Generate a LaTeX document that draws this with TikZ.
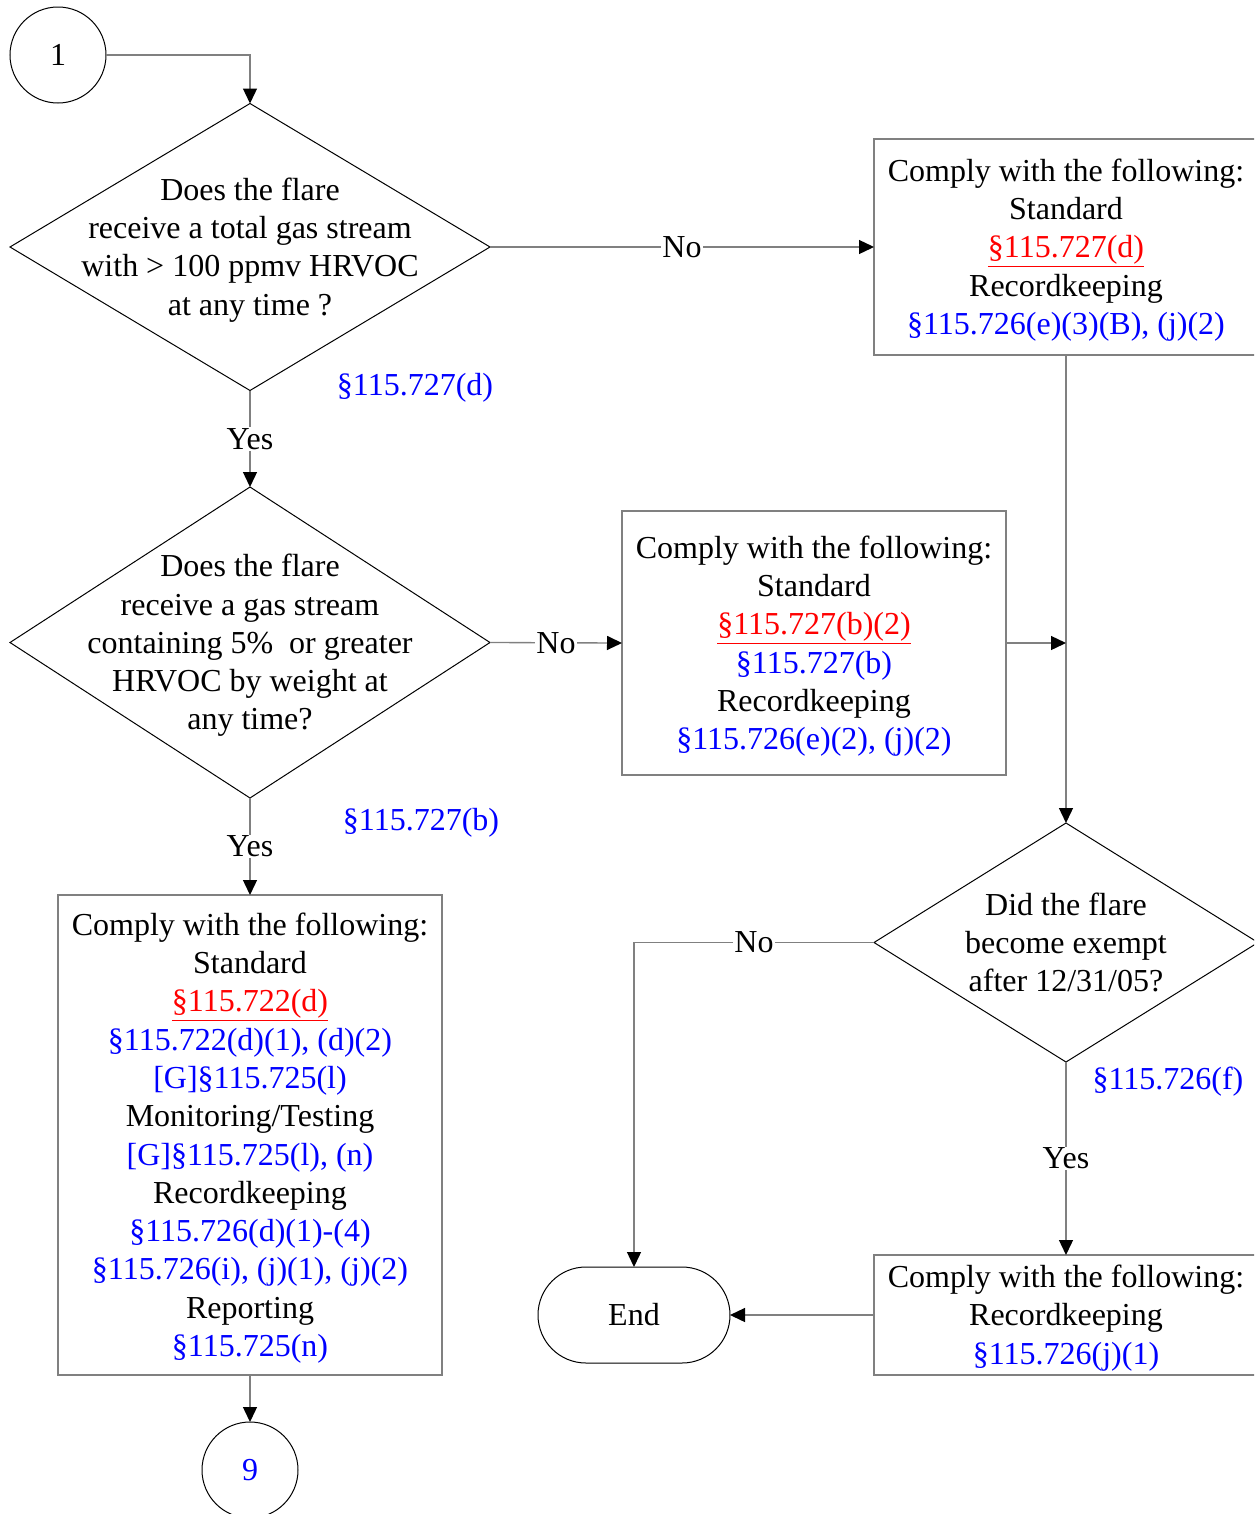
\documentclass[tikz,border=0pt]{standalone}
\usepackage{fontspec}
\setmainfont{Liberation Serif}
\usetikzlibrary{shapes.geometric,shapes.misc,arrows.meta}
\definecolor{refblue}{RGB}{0,0,255}
\definecolor{refred}{RGB}{255,0,0}
\definecolor{linegray}{RGB}{128,128,128}
\newcommand{\rb}[1]{\textcolor{refblue}{#1}}
\newcommand{\rr}[1]{\textcolor{refred}{\underline{#1}}}

\tikzset{every picture/.style={line width=0.75pt}}

\begin{document}
\begin{tikzpicture}[x=0.75pt,y=0.75pt,yscale=-1,xscale=1,
  font=\fontsize{24}{28.7}\selectfont,
  dia/.style={diamond,draw=black,line width=0.75pt,inner sep=0pt,outer sep=0pt},
  box/.style={rectangle,draw=linegray,line width=1pt,inner sep=0pt,outer sep=0pt,minimum width=288pt},
  conn/.style={circle,draw=black,line width=0.75pt,inner sep=0pt,outer sep=0pt,minimum size=72pt},
  txt/.style={align=center,inner sep=0pt,yshift=-2.25pt},
  lnk/.style={draw=linegray,line width=1pt},
  arr/.style={lnk,-{Triangle[length=11.25pt,width=10.5pt,color=black]}},
  lbl/.style={fill=white,inner sep=1pt}
]
%set diagram to the size of the page
\useasboundingbox (0,0) rectangle (1254,1514);
\clip (0,0) rectangle (1254,1514);

%Shape: Circle
\node[conn] (c1) at (58,55) {1};
\node[conn] (c9) at (250,1470) {\rb{9}};

%Shape: Diamond
\node[dia,minimum width=360pt,minimum height=215.25pt] (q1) at (250,247) {};
\node[dia,minimum width=360pt,minimum height=233.25pt] (q2) at (250,642.5) {};
\node[dia,minimum width=288pt,minimum height=179.25pt] (q3) at (1066,942.5) {};

%Shape: Rectangle
\node[box,minimum height=162pt] (b1) at (1066,247) {};
\node[box,minimum height=198pt] (b2) at (814,643) {};
\node[box,minimum height=360pt] (b3) at (250,1135) {};
\node[box,minimum height=90pt] (b4) at (1066,1315) {};

%Shape: Terminator
\node[rounded rectangle,draw=black,line width=0.75pt,inner sep=0pt,outer sep=0pt,minimum width=144pt,minimum height=72pt] (end) at (634,1315) {End};

% Text Node
\node[txt] (q1t) at (q1) {Does the flare\\receive a total gas stream\\with > 100 ppmv HRVOC\\at any time ?};
% Text Node
\node[txt] (q2t) at (q2) {Does the flare\\receive a gas stream\\containing 5\%\ \ or greater\\HRVOC by weight at\\any time?};
% Text Node
\node[txt] (q3t) at (1066,939.5) {Did the flare\\become exempt\\after 12/31/05?};

% Text Node
\node[txt] (b1t) at (b1) {Comply with the following:\\Standard\\\rr{§115.727(d)}\\Recordkeeping\\\rb{§115.726(e)(3)(B), (j)(2)}};
% Text Node
\node[txt] (b2t) at (b2) {Comply with the following:\\Standard\\\rr{§115.727(b)(2)}\\\rb{§115.727(b)}\\Recordkeeping\\\rb{§115.726(e)(2), (j)(2)}};
% Text Node
\node[txt] (b3t) at (b3) {Comply with the following:\\Standard\\\rr{§115.722(d)}\\\rb{§115.722(d)(1), (d)(2)}\\\rb{[G]§115.725(l)}\\Monitoring/Testing\\\rb{[G]§115.725(l), (n)}\\Recordkeeping\\\rb{§115.726(d)(1)-(4)}\\\rb{§115.726(i), (j)(1), (j)(2)}\\Reporting\\\rb{§115.725(n)}};
% Text Node
\node[txt] (b4t) at (b4) {Comply with the following:\\Recordkeeping\\\rb{§115.726(j)(1)}};

% Text Node
\node[txt] (r1) at (415,385) {\rb{§115.727(d)}};
\node[txt] (r2) at (421,820) {\rb{§115.727(b)}};
\node[txt] (r3) at (1168,1079) {\rb{§115.726(f)}};

%Straight Lines
\draw[arr] (c1.east) -| (q1.north);
\draw[arr] (q1.east) -- node[lbl] (n1) {No} (b1.west);
\draw[arr] (q1.south) -- node[lbl] (y1) {Yes} (q2.north);
\draw[arr] (q2.east) -- node[lbl] (n2) {No} (b2.west);
\draw[arr] (q2.south) -- node[lbl] (y2) {Yes} (b3.north);
\draw[arr] (b3.south) -- (c9.north);
\draw[arr] (b1.south) -- (q3.north);
\coordinate (m1) at (b1.south |- b2.east);
\draw[arr] (b2.east) -- (m1);
\draw[arr] (q3.west) -| node[lbl,pos=0.25] (n3) {No} (end.north);
\draw[arr] (q3.south) -- node[lbl] (y3) {Yes} (b4.north);
\draw[arr] (b4.west) -- (end.east);

\end{tikzpicture}
\end{document}
